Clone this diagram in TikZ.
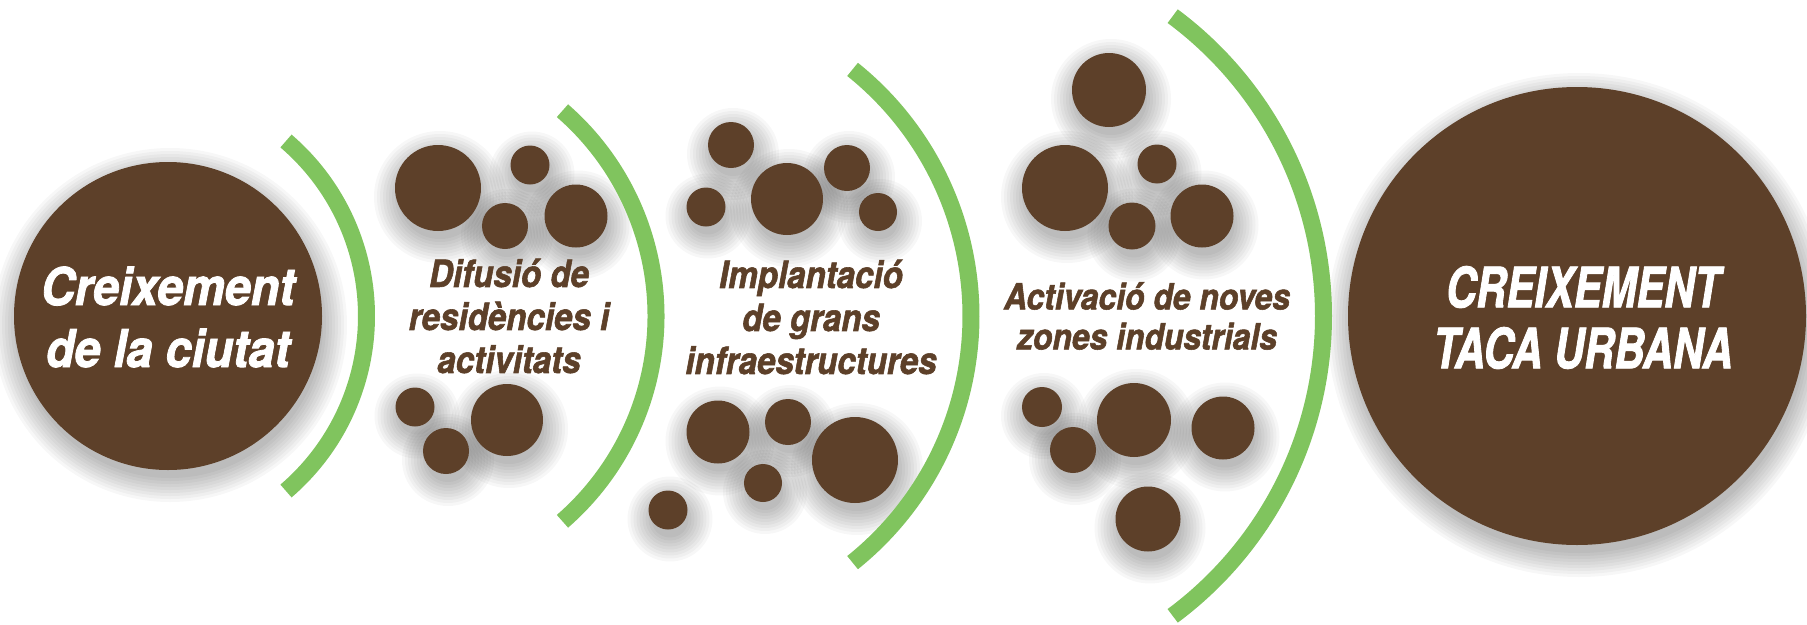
\documentclass[tikz,border=0pt]{standalone}
\usepackage{fontspec}
\newfontfamily\condfont[FakeStretch=0.88,FakeBold=1.5]{TeX Gyre Heros}
\newfontfamily\leftfont[FakeStretch=0.9,FakeBold=1.5]{TeX Gyre Heros}
\newfontfamily\capsfont[FakeStretch=0.75,FakeBold=1.5]{TeX Gyre Heros}
\definecolor{brownc}{RGB}{93,64,41}
\definecolor{greenc}{RGB}{128,196,94}
\tikzset{
  dot/.style={circle, fill=brownc, draw=none, inner sep=0pt, minimum size=#1},
  greenarc/.style={draw=greenc, line width=17pt, line cap=butt},
  whitelabel/.style={text=white, align=center, inner sep=0pt},
  brownlabel/.style={text=brownc, align=center, inner sep=0pt},
  midfont/.style={font=\condfont\bfseries\itshape\fontsize{37.6}{43}\selectfont},
}
\begin{document}
\begin{tikzpicture}[x=1pt,y=-1pt]
\fill[white] (0,0) rectangle (1807,624);
\useasboundingbox (0,0) rectangle (1807,624);

% soft shadows
\foreach \n/\x/\y/\r in {
  L/168/316/154, R/1577/316/229,
  a1/438/188/43, a2/530/165/19.5, a3/505/226/23, a4/576/216/31.5,
  a5/415/407/19.5, a6/507/420/36, a7/446/451/23,
  b1/731/145/23, b2/706/207/19.5, b3/787/199/36, b4/847/168/23, b5/878/212/19,
  b6/718/432/31.5, b7/788/422/23, b8/763/483/19, b9/855/460/43, b10/668/510/19.5,
  c1/1109/90/37, c2/1065/188/43, c3/1157/164/19.5, c4/1132/226/23.5, c5/1202/216/31.5,
  c6/1042/407/20, c7/1073/450/23, c8/1134/420/37, c9/1223/428/31.5, c10/1148/519/32.5}{
  \foreach \k in {1,...,9}{
    \fill[black, opacity=0.03] (\x+2,\y+9) circle[radius=\r-4+3*\k];
  }
}

% green arcs
\draw[greenarc] (136,316) ++(-49.4:230.5) arc[start angle=-49.4, end angle=49.4, radius=230.5];
\draw[greenarc] (384,316) ++(-49:272) arc[start angle=-49, end angle=49, radius=272];
\draw[greenarc] (655,316) ++(-51.3:316) arc[start angle=-51.3, end angle=51.3, radius=316];
\draw[greenarc] (950,316) ++(-53.4:373.5) arc[start angle=-53.4, end angle=53.4, radius=373.5];

% circles
\foreach \n/\x/\y/\r in {
  L/168/316/154, R/1577/316/229,
  a1/438/188/43, a2/530/165/19.5, a3/505/226/23, a4/576/216/31.5,
  a5/415/407/19.5, a6/507/420/36, a7/446/451/23,
  b1/731/145/23, b2/706/207/19.5, b3/787/199/36, b4/847/168/23, b5/878/212/19,
  b6/718/432/31.5, b7/788/422/23, b8/763/483/19, b9/855/460/43, b10/668/510/19.5,
  c1/1109/90/37, c2/1065/188/43, c3/1157/164/19.5, c4/1132/226/23.5, c5/1202/216/31.5,
  c6/1042/407/20, c7/1073/450/23, c8/1134/420/37, c9/1223/428/31.5, c10/1148/519/32.5}{
  \node[dot=2*\r] (\n) at (\x,\y) {};
}

% labels
\node[whitelabel, font=\leftfont\bfseries\itshape\fontsize{52}{62}\selectfont] (tL) at (168,317) {Creixement\\de la ciutat};
\node[whitelabel, font=\capsfont\bfseries\itshape\fontsize{55.7}{61}\selectfont] (tR) at (1583,317.5) {CREIXEMENT\\TACA URBANA};
\node[brownlabel, midfont] (t1) at (509,316) {Difusió de\\residències i\\activitats};
\node[brownlabel, midfont] (t2) at (811,317) {Implantació\\de grans\\infraestructures};
\node[brownlabel, font=\condfont\bfseries\itshape\fontsize{36.2}{40}\selectfont] (t3) at (1147,316) {Activació de noves\\zones industrials};
\end{tikzpicture}
\end{document}
